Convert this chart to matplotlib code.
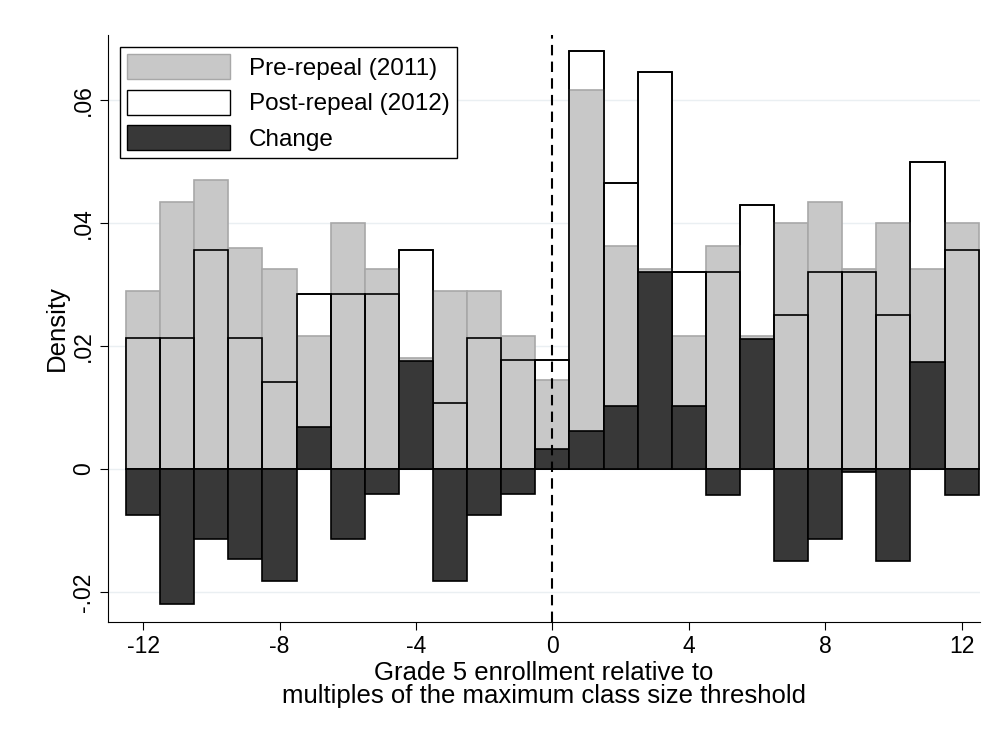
import matplotlib.pyplot as plt
import numpy as np

plt.rcParams['font.family'] = ['Liberation Sans', 'DejaVu Sans']
plt.rcParams['axes.unicode_minus'] = False

bins = np.arange(-12, 13)
pre = [.029, .0435, .047, .036, .0325, .0217, .040, .0325, .018, .029, .029, .0217, .0145,
       .0617, .0362, .0325, .0217, .0362, .0217, .040, .0435, .0325, .040, .0325, .040]
post = [.0213, .0213, .0356, .0213, .0142, .0285, .0285, .0285, .0356, .0107, .0213, .0178, .0178,
        .068, .0465, .0645, .032, .032, .043, .025, .032, .032, .025, .050, .0356]
change = [-.0075, -.022, -.0114, -.0147, -.0183, .0068, -.0114, -.004, .0176, -.0183, -.0075, -.004, .0033,
          .0062, .0102, .032, .0103, -.0042, .0212, -.015, -.0114, -.0005, -.015, .0174, -.0043]

fig = plt.figure(figsize=(9.92, 7.43), dpi=100)
ax = fig.add_axes([108/992, 1-622/743, 872/992, 587/743])

ax.bar(bins, post, width=1, color='white', edgecolor='black', lw=1.2, zorder=2)
ax.bar(bins, pre, width=1, color='#c8c8c8', edgecolor='#a8a8a8', lw=1.2, zorder=3)
ax.bar(bins, post, width=1, color='none', edgecolor='black', lw=1.2, zorder=4)
ax.bar(bins, change, width=1, color='#383838', edgecolor='black', lw=1.2, zorder=5)
ax.axvline(0, color='black', ls=(0, (5, 3)), lw=1.5, zorder=6)

for y in [-.02, 0, .02, .04, .06]:
    ax.axhline(y, color='#eaeff2', lw=1, zorder=1)

ax.set_xlim(-13.03, 12.54)
ax.set_ylim(-0.0249, 0.0706)
ax.set_xticks(range(-12, 13, 4))
ax.set_yticks([-.02, 0, .02, .04, .06])
ax.set_yticklabels(['-.02', '0', '.02', '.04', '.06'], rotation=90, va='center')
ax.tick_params(labelsize=16.5, length=6)
for s in ['top', 'right']:
    ax.spines[s].set_visible(False)
ax.set_ylabel('Density', fontsize=18.5, labelpad=2)
ax.set_xlabel('Grade 5 enrollment relative to\nmultiples of the maximum class size threshold',
              fontsize=18.5, linespacing=0.95, labelpad=2)

handles = [plt.Rectangle((0, 0), 1, 1, fc='#c8c8c8', ec='#a8a8a8'),
           plt.Rectangle((0, 0), 1, 1, fc='white', ec='black'),
           plt.Rectangle((0, 0), 1, 1, fc='#383838', ec='black')]
leg = ax.legend(handles, ['Pre-repeal (2011)', 'Post-repeal (2012)', 'Change'], loc='upper left',
                bbox_to_anchor=(0.0, 1.0), fontsize=17.5, fancybox=False, framealpha=1,
                edgecolor='black', handlelength=4.2, handleheight=1.2, borderpad=0.3,
                labelspacing=0.4)
leg.set_zorder(10)

fig.savefig('out.png')
